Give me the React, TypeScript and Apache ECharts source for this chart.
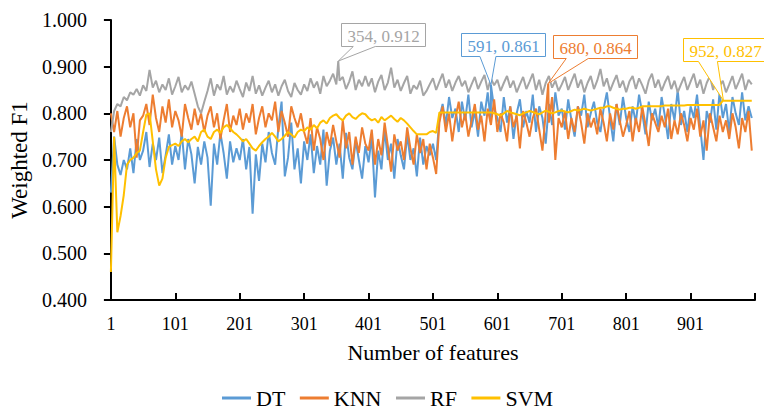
import React, { useEffect, useRef } from "react";
import * as echarts from "echarts";

// Sampled every 5 features starting at feature 1 (values are Weighted F1 x 1000)
const featureStart = 1;
const featureStep = 5;

const DT = [
  630, 750, 690, 668, 700, 680, 725, 672, 745, 700,
  720, 760, 685, 735, 700, 748, 672, 710, 755, 690,
  730, 700, 760, 680, 745, 712, 650, 728, 690, 740,
  705, 602, 735, 690, 758, 715, 660, 740, 695, 725,
  700, 745, 680, 728, 585, 712, 655, 735, 695, 760,
  715, 690, 770, 825, 665, 705, 780, 680, 725, 650,
  740, 700, 755, 672, 730, 690, 765, 645, 720, 748,
  690, 735, 660, 758, 705, 680, 742, 700, 660, 730,
  695, 750, 620, 720, 680, 765, 700, 735, 660, 745,
  710, 680, 755, 700, 725, 665, 748, 690, 730, 710,
  735, 700, 790, 820, 775, 835, 790, 810, 760, 825,
  785, 840, 770, 805, 750, 825, 795, 845, 780, 810,
  790, 760, 835, 780, 815, 745, 800, 830, 770, 805,
  780, 840, 760, 815, 790, 735, 820, 775, 845, 795,
  810, 765, 830, 785, 750, 815, 795, 840, 770, 800,
  825, 780, 760, 810, 845, 790, 740, 820, 775, 835,
  790, 760, 815, 780, 840, 800, 755, 825, 785, 810,
  770, 835, 795, 745, 820, 785, 850, 775, 805, 760,
  815, 790, 840, 770, 700, 805, 780, 830, 765, 845,
  790, 820, 760, 835, 800, 775, 845, 785, 815, 790,
];

const KNN = [
  800, 760, 805, 750, 790, 815, 770, 800, 705, 785,
  795, 820, 775, 840, 790, 760, 815, 780, 830, 770,
  805, 785, 750, 820, 790, 765, 810, 775, 800, 760,
  795, 815, 770, 800, 745, 785, 820, 760, 795, 775,
  810, 765, 800, 780, 820, 755, 790, 815, 770, 800,
  785, 825, 760, 805, 780, 750, 815, 790, 770, 800,
  760, 735, 790, 720, 770, 745, 700, 760, 730, 775,
  740, 705, 785, 725, 760, 690, 750, 715, 770, 735,
  720, 765, 690, 745, 710, 780, 730, 675, 755, 720,
  740, 700, 770, 725, 690, 755, 715, 745, 680, 735,
  705, 670, 780, 815, 760, 800, 740, 790, 825, 770,
  800, 750, 785, 820, 765, 795, 740, 810, 775, 830,
  760, 800, 780, 740, 815, 770, 795, 725, 805, 780,
  750, 790, 810, 765, 720, 800, 780, 835, 700, 790,
  770, 805, 745, 790, 760, 815, 780, 735, 800, 770,
  790, 755, 810, 780, 740, 800, 765, 820, 785, 750,
  775, 805, 740, 790, 760, 815, 775, 730, 800, 780,
  760, 795, 770, 810, 745, 785, 755, 800, 775, 740,
  790, 765, 810, 750, 785, 720, 800, 770, 740, 795,
  760, 785, 745, 800, 770, 725, 790, 760, 805, 720,
];

const RF = [
  760, 805, 820, 815, 835, 828, 845, 840, 852, 838,
  860, 848, 893, 855, 870, 845, 862, 850, 875, 840,
  858, 878, 845, 860, 850, 868, 842, 815, 800, 825,
  848, 875, 838, 862, 850, 880, 840, 858, 845, 870,
  852, 835, 866, 848, 880, 842, 860, 838, 855, 870,
  845, 862, 838, 858, 872, 848, 835, 865, 850, 840,
  862, 848, 875, 855, 868, 842, 880, 858, 870, 885,
  862, 870, 878, 852, 868, 890, 850, 872, 858, 880,
  858, 875, 845, 868, 882, 850, 866, 898, 855, 872,
  848, 865, 880, 842, 860, 852, 870, 838, 848, 862,
  875, 850, 868, 885, 855, 872, 848, 866, 880, 858,
  870, 845, 862, 878, 852, 868, 882, 850, 875, 860,
  872, 848, 865, 880, 855, 870, 845, 862, 878, 852,
  868, 885, 850, 872, 840, 865, 880, 855, 870, 848,
  862, 878, 850, 868, 885, 855, 872, 845, 865, 880,
  852, 870, 895, 858, 875, 848, 866, 882, 855, 870,
  845, 868, 880, 852, 875, 860, 842, 870, 885, 855,
  872, 848, 866, 880, 852, 870, 845, 862, 878, 850,
  868, 885, 855, 872, 842, 865, 880, 850, 875, 858,
  870, 845, 862, 880, 852, 868, 885, 850, 872, 862,
];

const SVM = [
  460, 750, 545, 580, 625, 690, 700, 705, 715, 720,
  760, 797, 800, 740, 680, 645, 660, 705, 728, 732,
  735, 730, 740, 745, 738, 745, 750, 740, 760, 765,
  750, 745, 760, 765, 758, 770, 775, 768, 760, 755,
  748, 740, 745, 735, 725, 720, 730, 738, 745, 750,
  758, 750, 740, 745, 752, 760, 755, 748, 760, 765,
  762, 770, 765, 775, 768, 780, 785, 778, 790, 795,
  798, 790, 785, 795, 800, 792, 788, 795, 800, 798,
  790, 785, 788, 780, 792, 785, 790, 795, 788, 782,
  790, 785, 778, 770, 762, 755, 755, 755, 755, 760,
  762, 758, 802, 802, 802, 802, 802, 802, 802, 802,
  802, 802, 802, 802, 802, 802, 802, 802, 802, 800,
  798, 795, 800, 805, 802, 800, 798, 796, 800, 802,
  805, 803, 800, 798, 802, 806, 803, 800, 802, 805,
  806, 804, 802, 805, 808, 806, 808, 810, 808, 806,
  808, 810, 812, 812, 815, 815, 812, 810, 808, 810,
  810, 812, 812, 810, 812, 815, 815, 815, 815, 815,
  815, 815, 817, 817, 817, 817, 817, 817, 817, 818,
  818, 818, 818, 818, 818, 818, 818, 818, 818, 818,
  827, 827, 827, 827, 827, 827, 827, 827, 827, 827,
];

const seriesNames = ["DT", "KNN", "RF", "SVM"];
const seriesValues = [DT, KNN, RF, SVM];
const colors = ["#5B9BD5", "#ED7D31", "#A5A5A5", "#FFC000"];

// Labelled maxima (feature, value)
const peakFeatures = [591, 680, 354, 952];
const peakValues = [0.861, 0.864, 0.912, 0.827];

// axes
const yMin = 0.4;
const yMax = 1.0;
const yStep = 0.1;
const xMaxFeature = 1001;
const xTickStep = 100;

// callout layout offsets relative to the pointed data pixel
const calloutLayout = [
  { left: -30, top: -52, b1: -11, b2: 5 }, // DT
  { left: 5, top: -48, b1: 18, b2: 40 }, // KNN
  { left: 3, top: -38, b1: 15, b2: 37 }, // RF
  { left: -40, top: -63, b1: -25, b2: -6 }, // SVM
];

const FONT = "Liberation Serif";

export default function App() {
  const ref = useRef<HTMLDivElement>(null);

  useEffect(() => {
    if (!ref.current) return;
    const chart = echarts.init(ref.current, undefined, { renderer: "svg" });

    const series = seriesNames.map((name, s) => {
      const pts: [number, number][] = seriesValues[s].map((v, i) => [
        featureStart + i * featureStep - 1,
        v / 1000,
      ]);
      pts.push([peakFeatures[s] - 1, peakValues[s]]);
      pts.sort((a, b) => a[0] - b[0]);
      return {
        name,
        type: "line",
        data: pts,
        showSymbol: false,
        symbol: "none",
        lineStyle: { color: colors[s], width: 2 },
        itemStyle: { color: colors[s] },
        z: 2 + s,
      };
    });

    chart.setOption({
      animation: false,
      textStyle: { fontFamily: FONT },
      grid: { left: 105, right: 9, top: 20, bottom: 110, containLabel: false },
      legend: {
        data: seriesNames,
        left: 222,
        top: 387,
        padding: 0,
        icon: "rect",
        itemWidth: 29,
        itemHeight: 3,
        itemGap: 14.5,
        textStyle: { fontFamily: FONT, fontSize: 22, color: "#000" },
      },
      xAxis: {
        type: "value",
        min: 0,
        max: xMaxFeature - 1,
        interval: xTickStep,
        name: "Number of features",
        nameLocation: "middle",
        nameGap: 41,
        nameTextStyle: { fontFamily: FONT, fontSize: 22, color: "#000" },
        axisLine: { show: true, onZero: false, lineStyle: { color: "#000", width: 2 } },
        axisTick: { show: true, inside: true, length: 7, lineStyle: { color: "#000", width: 2 } },
        axisLabel: {
          fontFamily: FONT,
          fontSize: 18,
          color: "#000",
          margin: 15,
          showMaxLabel: true,
          formatter: (v: number) => (v >= xMaxFeature - 1 ? "" : String(v + 1)),
        },
        splitLine: { show: false },
      },
      yAxis: {
        type: "value",
        min: yMin,
        max: yMax,
        interval: yStep,
        name: "Weighted F1",
        nameLocation: "middle",
        nameGap: 73,
        nameTextStyle: { fontFamily: FONT, fontSize: 23, color: "#000" },
        axisLine: { show: true, lineStyle: { color: "#000", width: 2 } },
        axisTick: { show: true, inside: false, length: 7, lineStyle: { color: "#000", width: 2 } },
        axisLabel: {
          fontFamily: FONT,
          fontSize: 20,
          color: "#000",
          margin: 24,
          formatter: (v: number) => v.toFixed(3),
        },
        splitLine: { show: false },
      },
      series,
    });

    const graphics: any[] = [];
    seriesNames.forEach((name, s) => {
      const p = chart.convertToPixel({ gridIndex: 0 }, [peakFeatures[s] - 1, peakValues[s]]) as number[];
      const tx = p[0];
      const ty = p[1];
      const L = calloutLayout[s];
      const l = Math.round(tx + L.left) + 0.5;
      const t = Math.round(ty + L.top) + 0.5;
      const w = 84;
      const h = 23;
      const r = l + w;
      const b = t + h;
      graphics.push({
        type: "polygon",
        z: 100,
        shape: {
          points: [
            [l, t],
            [r, t],
            [r, b],
            [tx + L.b2, b],
            [tx, ty],
            [tx + L.b1, b],
            [l, b],
          ],
        },
        style: { fill: "#fff", stroke: colors[s], lineWidth: 1 },
      });
      graphics.push({
        type: "text",
        z: 101,
        x: (l + r) / 2,
        y: (t + b) / 2 + 1,
        style: {
          text: `${peakFeatures[s]}, ${peakValues[s].toFixed(3)}`,
          fill: colors[s],
          fontFamily: FONT,
          fontSize: 17,
          align: "center",
          verticalAlign: "middle",
        },
      });
    });
    chart.setOption({ graphic: graphics });

    return () => chart.dispose();
  }, []);

  return (
    <div
      ref={ref}
      style={{ position: "absolute", left: 0, top: 0, width: 764, height: 410, background: "#fff" }}
    />
  );
}
